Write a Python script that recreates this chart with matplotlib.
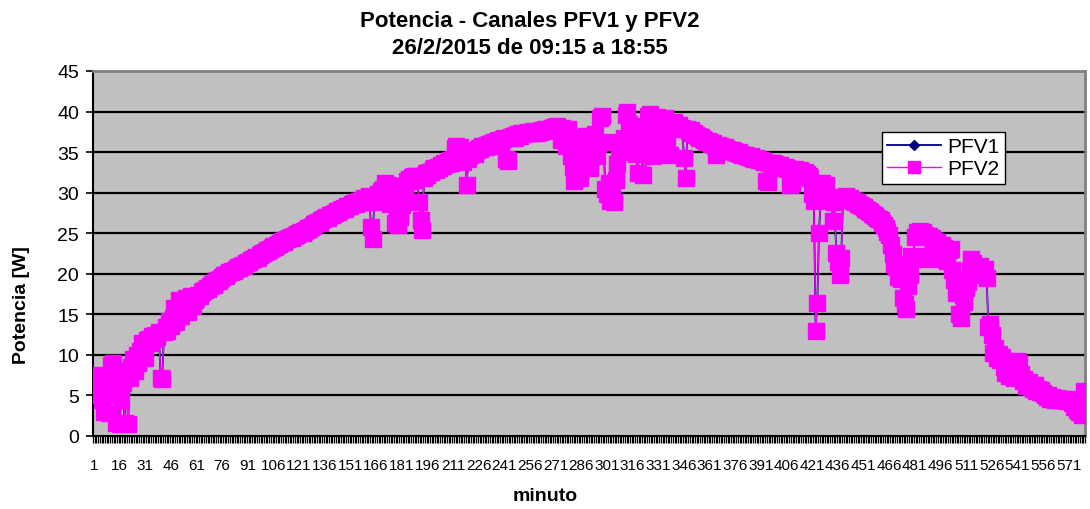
import matplotlib
matplotlib.use("Agg")
import matplotlib.pyplot as plt
from matplotlib.ticker import FixedLocator, NullFormatter

# ---------------- data ----------------
minutes = list(range(1, 581))
tick_labels = [str(m) for m in range(1, 581, 15)]
y_ticks = [0, 5, 10, 15, 20, 25, 30, 35, 40, 45]

pfv2 = [
    6.8, 7.3, 7.0, 5.0, 7.5, 4.5, 3.0, 7.2, 5.2, 2.8, 8.8, 9.0, 6.0, 1.6, 7.8, 1.5, 4.5, 6.5, 1.6, 8.0,
    1.5, 7.2, 8.5, 9.5, 8.0, 10.0, 9.0, 10.5, 11.5, 10.8, 9.6, 11.8, 12.0, 11.5, 12.3, 12.0, 12.5, 12.2, 12.8, 7.2,
    7.0, 12.8, 13.5, 13.0, 14.2, 13.6, 14.5, 15.8, 14.0, 15.2, 16.8, 14.8, 15.5, 16.0, 17.0, 15.3, 16.2, 17.2, 16.0, 16.8,
    17.0, 17.4, 17.3, 17.7, 17.9, 18.0, 18.2, 18.1, 18.5, 18.7, 18.6, 19.0, 19.2, 19.1, 19.4, 19.6, 19.8, 19.7, 20.0, 20.2,
    20.2, 20.4, 20.3, 20.6, 20.8, 20.7, 21.0, 21.1, 21.0, 21.3, 21.5, 21.4, 21.7, 21.8, 21.9, 22.1, 22.0, 22.3, 22.5, 22.6,
    22.7, 22.9, 22.8, 23.1, 23.2, 23.4, 23.3, 23.6, 23.7, 23.8, 24.0, 23.9, 24.2, 24.3, 24.4, 24.5, 24.4, 24.7, 24.8, 24.9,
    25.0, 25.1, 25.0, 25.3, 25.4, 25.6, 25.5, 25.8, 25.9, 26.1, 26.2, 26.4, 26.3, 26.6, 26.7, 26.9, 27.0, 26.9, 27.2, 27.3,
    27.4, 27.5, 27.7, 27.6, 27.9, 28.0, 28.1, 28.0, 28.3, 28.4, 28.3, 28.6, 28.7, 28.6, 28.9, 29.0, 28.8, 29.1, 29.3, 28.8,
    29.4, 29.6, 25.8, 24.3, 28.9, 29.5, 29.8, 29.2, 30.2, 30.5, 31.2, 30.0, 31.0, 28.6, 30.8, 30.3, 26.2, 27.8, 26.0, 27.0,
    28.5, 29.3, 30.8, 31.5, 31.7, 31.4, 31.9, 32.0, 31.6, 32.1, 28.8, 26.6, 25.4, 31.8, 32.4, 32.2, 32.6, 32.5, 32.9, 33.0,
    32.8, 33.2, 33.1, 33.4, 33.3, 33.6, 33.5, 33.8, 34.0, 33.7, 34.2, 35.5, 35.8, 34.1, 35.6, 34.0, 33.8, 34.3, 31.0, 34.2,
    34.6, 34.9, 35.1, 34.8, 35.3, 35.5, 35.4, 35.7, 35.8, 35.6, 35.9, 36.0, 35.8, 36.1, 36.2, 36.0, 36.4, 36.5, 36.3, 36.6,
    36.7, 34.2, 33.9, 36.8, 36.9, 37.0, 36.8, 37.1, 37.2, 37.0, 37.3, 37.2, 37.4, 37.3, 37.5, 37.4, 37.3, 37.6, 37.5, 37.4,
    37.6, 37.5, 37.7, 37.6, 37.8, 37.7, 37.9, 37.8, 38.0, 38.1, 37.9, 38.2, 37.8, 36.5, 38.0, 37.2, 35.8, 37.9, 36.4, 34.5,
    33.2, 31.5, 36.0, 32.8, 31.8, 36.8, 34.0, 33.5, 37.0, 35.5, 33.0, 36.5, 35.8, 37.2, 34.5, 36.0, 39.2, 39.4, 36.3, 30.5,
    29.8, 31.2, 29.0, 30.4, 28.9, 31.6, 33.5, 35.0, 36.2, 35.6, 36.8, 39.6, 40.0, 38.5, 36.0, 35.2, 37.5, 34.8, 32.4, 36.4,
    35.0, 32.2, 36.8, 38.2, 39.4, 39.7, 38.5, 34.5, 36.5, 39.3, 38.6, 34.8, 37.5, 38.9, 39.2, 36.0, 38.6, 34.6, 38.2, 38.7,
    38.4, 38.1, 38.3, 37.9, 38.0, 34.3, 31.8, 37.8, 37.6, 37.7, 37.4, 37.3, 37.1, 37.0, 36.8, 36.9, 36.6, 36.5, 36.3, 36.4,
    36.2, 36.0, 36.1, 35.8, 34.6, 35.9, 35.7, 35.6, 35.5, 35.6, 35.4, 35.3, 35.2, 35.3, 35.1, 35.0, 34.9, 35.0, 34.8, 34.7,
    34.6, 34.7, 34.5, 34.4, 34.5, 34.3, 34.2, 34.3, 34.1, 34.0, 34.0, 33.9, 33.8, 31.5, 31.3, 33.7, 33.6, 33.7, 33.5, 33.4,
    33.3, 33.4, 33.2, 33.1, 33.2, 33.0, 32.9, 31.0, 31.2, 32.8, 32.9, 32.7, 32.6, 32.8, 32.5, 32.4, 32.6, 32.3, 32.1, 31.8,
    29.8, 29.0, 13.0, 16.4, 25.0, 29.5, 31.2, 30.8, 31.0, 29.5, 29.2, 29.0, 26.5, 28.8, 22.6, 21.4, 19.8, 22.0, 29.3, 29.5,
    29.6, 29.4, 29.3, 29.1, 29.0, 28.8, 28.9, 28.6, 28.5, 28.3, 28.2, 28.0, 27.9, 27.7, 27.6, 27.4, 27.3, 27.1, 26.9, 26.8,
    26.6, 26.3, 26.0, 25.6, 25.2, 24.8, 23.5, 22.4, 21.2, 20.8, 19.6, 21.0, 19.3, 17.0, 16.3, 15.6, 18.5, 19.8, 22.2, 21.8,
    24.5, 25.2, 25.0, 25.3, 24.9, 25.1, 24.8, 22.2, 24.6, 21.8, 24.4, 24.0, 23.8, 23.9, 23.5, 23.3, 23.6, 23.2, 22.8, 21.6,
    22.9, 23.0, 20.5, 19.2, 17.6, 18.8, 15.0, 14.6, 17.4, 16.5, 18.2, 19.0, 20.5, 21.8, 21.3, 20.6, 19.8, 20.2, 20.9, 20.4,
    20.0, 20.6, 19.5, 13.4, 13.8, 12.5, 10.2, 10.8, 9.6, 10.1, 9.4, 9.8, 8.5, 7.8, 9.2, 7.4, 8.0, 7.5, 7.2, 8.6,
    9.2, 9.0, 7.6, 6.8, 7.0, 6.2, 6.5, 6.6, 6.0, 5.8, 6.3, 5.6, 5.8, 5.4, 5.7, 5.3, 5.0, 4.8, 5.0, 4.6,
    4.8, 4.6, 4.5, 4.7, 4.5, 4.6, 4.4, 4.6, 4.5, 4.3, 4.6, 4.4, 4.1, 3.6, 4.3, 3.2, 2.9, 3.6, 2.6, 5.5,
]

pfv1 = [
    6.6, 7.1, 6.9, 4.8, 7.3, 4.3, 2.9, 7.0, 5.0, 2.7, 8.6, 8.8, 5.8, 1.8, 7.6, 1.7, 4.3, 6.3, 1.8, 7.8,
    1.6, 7.0, 8.3, 9.3, 7.8, 9.8, 8.8, 10.3, 11.3, 10.6, 9.4, 11.6, 11.8, 11.3, 12.1, 11.8, 12.3, 12.0, 12.6, 7.3,
    7.2, 12.6, 13.3, 12.8, 14.0, 13.4, 14.3, 15.6, 13.8, 15.0, 16.6, 14.6, 15.3, 15.8, 16.8, 15.1, 16.0, 17.0, 15.8, 16.6,
    16.8, 17.2, 17.1, 17.5, 17.7, 17.8, 18.0, 17.9, 18.3, 18.5, 18.4, 18.8, 19.0, 18.9, 19.2, 19.4, 19.6, 19.5, 19.8, 20.0,
    20.0, 20.2, 20.1, 20.4, 20.6, 20.5, 20.8, 20.9, 20.8, 21.1, 21.3, 21.2, 21.5, 21.6, 21.7, 21.9, 21.8, 22.1, 22.3, 22.4,
    22.5, 22.7, 22.6, 22.9, 23.0, 23.2, 23.1, 23.4, 23.5, 23.6, 23.8, 23.7, 24.0, 24.1, 24.2, 24.3, 24.2, 24.5, 24.6, 24.7,
    24.8, 24.9, 24.8, 25.1, 25.2, 25.4, 25.3, 25.6, 25.7, 25.9, 26.0, 26.2, 26.1, 26.4, 26.5, 26.7, 26.8, 26.7, 27.0, 27.1,
    27.2, 27.3, 27.5, 27.4, 27.7, 27.8, 27.9, 27.8, 28.1, 28.2, 28.1, 28.4, 28.5, 28.4, 28.7, 28.8, 28.6, 28.9, 29.1, 28.6,
    29.2, 29.4, 26.2, 24.6, 28.7, 29.3, 29.6, 29.0, 30.0, 30.3, 31.0, 29.8, 30.8, 28.4, 30.6, 30.1, 26.6, 27.6, 26.3, 27.2,
    28.3, 29.1, 30.6, 31.3, 31.5, 31.2, 31.7, 31.8, 31.4, 31.9, 29.0, 26.9, 25.7, 31.6, 32.2, 32.0, 32.4, 32.3, 32.7, 32.8,
    32.6, 33.0, 32.9, 33.2, 33.1, 33.4, 33.3, 33.6, 33.8, 33.5, 34.0, 35.3, 35.6, 33.9, 35.4, 33.8, 33.6, 34.1, 31.3, 34.0,
    34.4, 34.7, 34.9, 34.6, 35.1, 35.3, 35.2, 35.5, 35.6, 35.4, 35.7, 35.8, 35.6, 35.9, 36.0, 35.8, 36.2, 36.3, 36.1, 36.4,
    36.5, 34.4, 34.1, 36.6, 36.7, 36.8, 36.6, 36.9, 37.0, 36.8, 37.1, 37.0, 37.2, 37.1, 37.3, 37.2, 37.1, 37.4, 37.3, 37.2,
    37.4, 37.3, 37.5, 37.4, 37.6, 37.5, 37.7, 37.6, 37.8, 37.9, 37.7, 38.0, 37.6, 36.7, 37.8, 37.0, 36.0, 37.7, 36.6, 34.7,
    33.4, 31.7, 35.8, 33.0, 32.0, 36.6, 34.2, 33.7, 36.8, 35.3, 33.2, 36.3, 35.6, 37.0, 34.7, 35.8, 39.0, 39.2, 36.1, 30.7,
    30.0, 31.0, 29.2, 30.2, 29.1, 31.4, 33.3, 34.8, 36.0, 35.4, 36.6, 39.4, 39.8, 38.3, 35.8, 35.0, 37.3, 34.6, 32.6, 36.2,
    34.8, 32.4, 36.6, 38.0, 39.2, 39.5, 38.3, 34.7, 36.3, 39.1, 38.4, 35.0, 37.3, 38.7, 39.0, 35.8, 38.4, 34.8, 38.0, 38.5,
    38.2, 37.9, 38.1, 37.7, 37.8, 34.5, 32.0, 37.6, 37.4, 37.5, 37.2, 37.1, 36.9, 36.8, 36.6, 36.7, 36.4, 36.3, 36.1, 36.2,
    36.0, 35.8, 35.9, 35.6, 34.8, 35.7, 35.5, 35.4, 35.3, 35.4, 35.2, 35.1, 35.0, 35.1, 34.9, 34.8, 34.7, 34.8, 34.6, 34.5,
    34.4, 34.5, 34.3, 34.2, 34.3, 34.1, 34.0, 34.1, 33.9, 33.8, 33.8, 33.7, 33.6, 31.7, 31.5, 33.5, 33.4, 33.5, 33.3, 33.2,
    33.1, 33.2, 33.0, 32.9, 33.0, 32.8, 32.7, 31.2, 31.4, 32.6, 32.7, 32.5, 32.4, 32.6, 32.3, 32.2, 32.4, 32.1, 31.9, 31.6,
    29.6, 28.8, 13.2, 16.6, 25.3, 29.3, 31.0, 30.6, 30.8, 29.3, 29.0, 28.8, 26.8, 28.6, 22.9, 21.7, 20.1, 22.3, 29.1, 29.3,
    29.4, 29.2, 29.1, 28.9, 28.8, 28.6, 28.7, 28.4, 28.3, 28.1, 28.0, 27.8, 27.7, 27.5, 27.4, 27.2, 27.1, 26.9, 26.7, 26.6,
    26.4, 26.1, 25.8, 25.4, 25.0, 24.6, 23.7, 22.6, 21.4, 21.0, 19.8, 21.2, 19.5, 17.3, 16.6, 15.9, 18.7, 20.0, 22.0, 21.6,
    24.3, 25.0, 24.8, 25.1, 24.7, 24.9, 24.6, 22.4, 24.4, 22.0, 24.2, 23.8, 23.6, 23.7, 23.3, 23.1, 23.4, 23.0, 22.6, 21.8,
    22.7, 22.8, 20.7, 19.4, 17.8, 18.6, 15.3, 14.9, 17.6, 16.7, 18.0, 18.8, 20.3, 21.6, 21.1, 20.4, 19.6, 20.0, 20.7, 20.2,
    19.8, 20.4, 19.3, 13.7, 14.0, 12.7, 10.4, 10.6, 9.8, 9.9, 9.6, 9.6, 8.7, 8.0, 9.0, 7.6, 7.8, 7.7, 7.4, 8.4,
    9.0, 8.8, 7.8, 7.0, 6.8, 6.4, 6.3, 6.4, 6.2, 5.6, 6.1, 5.8, 5.6, 5.6, 5.5, 5.5, 4.8, 5.0, 4.8, 4.8,
    4.6, 4.8, 4.3, 4.5, 4.7, 4.4, 4.6, 4.4, 4.3, 4.5, 4.4, 4.2, 4.3, 3.8, 4.1, 3.4, 3.1, 3.4, 2.8, 5.3,
]

# ---------------- figure ----------------
W, H = 1090, 510
fig = plt.figure(figsize=(W / 100, H / 100), dpi=100)
fig.patch.set_facecolor("white")

L, R, T, B = 93, 1085, 72, 437
ax = fig.add_axes([L / W, 1 - B / H, (R - L) / W, (B - T) / H])
ax.set_facecolor("#C0C0C0")

arial = ["Liberation Sans", "DejaVu Sans"]

for y in y_ticks[1:-1]:
    ax.axhline(y, color="black", lw=1.6, zorder=1)

ax.plot(minutes, pfv1, color="#000080", lw=1.3, marker="D", markersize=3.5,
        markerfacecolor="#000080", markeredgecolor="#000080", zorder=3, label="PFV1")
ax.plot(minutes, pfv2, color="#FF00FF", lw=1.0, marker="s", markersize=11.5,
        markerfacecolor="#FF00FF", markeredgecolor="#FF00FF", zorder=4, label="PFV2")

ax.set_xlim(0.5, 580.5)
ax.set_ylim(0, 45)

ax.yaxis.set_major_locator(FixedLocator(y_ticks))
ax.set_yticklabels([str(v) for v in y_ticks], fontfamily=arial, fontsize=14)
ax.tick_params(axis="y", which="major", direction="out", length=5, width=1.2,
               color="black", pad=5)

ax.xaxis.set_major_locator(FixedLocator(list(range(1, 581, 15))))
ax.set_xticklabels(tick_labels, fontfamily=arial, fontsize=11)
ax.xaxis.set_minor_locator(FixedLocator([k + 0.5 for k in range(0, 581)]))
ax.xaxis.set_minor_formatter(NullFormatter())
ax.tick_params(axis="x", which="major", length=0, pad=16)
ax.tick_params(axis="x", which="minor", direction="out", length=5, width=0.9, color="black")

for s in ("top", "right"):
    ax.spines[s].set_color("#808080")
    ax.spines[s].set_linewidth(2)
ax.spines["left"].set_color("black")
ax.spines["left"].set_linewidth(1.5)
ax.spines["bottom"].set_color("black")
ax.spines["bottom"].set_linewidth(1.5)

# titles and axis labels
fig.text(530 / W, 1 - 22 / H, "Potencia - Canales PFV1 y PFV2", ha="center", va="center",
         fontsize=16, fontweight="bold", fontfamily=arial)
fig.text(530 / W, 1 - 48 / H, "26/2/2015 de 09:15 a 18:55", ha="center", va="center",
         fontsize=16, fontweight="bold", fontfamily=arial)
fig.text(22 / W, 1 - 305 / H, "Potencia [W]", rotation=90, ha="center", va="center",
         fontsize=14, fontweight="bold", fontfamily=arial)
fig.text(545 / W, 1 - 497 / H, "minuto", ha="center", va="center",
         fontsize=14, fontweight="bold", fontfamily=arial)

leg = ax.legend(loc="upper left", bbox_to_anchor=(882 / W, 1 - 133 / H),
                bbox_transform=fig.transFigure, borderaxespad=0, fancybox=False,
                edgecolor="black", framealpha=1, facecolor="white",
                prop={"family": arial, "size": 15}, handlelength=2.6,
                handletextpad=0.3, borderpad=0.25, labelspacing=0.15)
leg.get_frame().set_linewidth(1.0)
for h in leg.legend_handles:
    if h.get_label() == "PFV2":
        h.set_markersize(8)
    else:
        h.set_markersize(5)

fig.savefig("out.png", dpi=100, facecolor="white")
